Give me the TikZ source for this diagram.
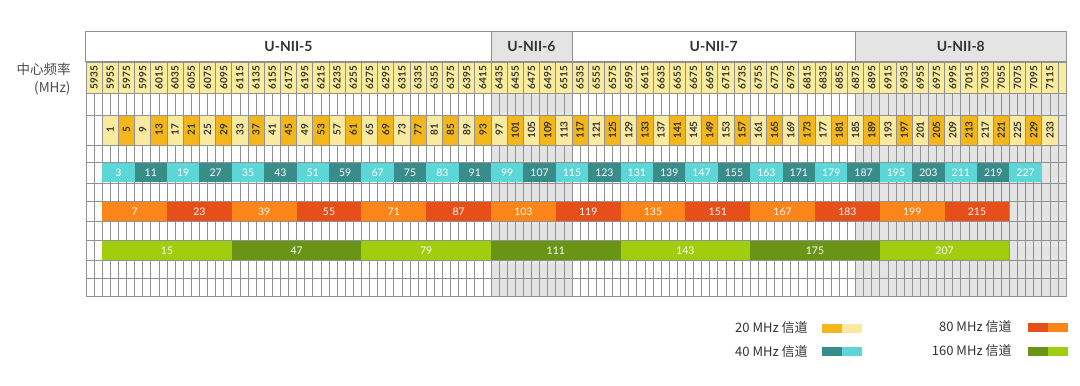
\documentclass[tikz,border=0pt]{standalone}
\usepackage{fontspec}
\setmainfont{Lato}
\newfontfamily\cjk{Noto Sans CJK SC}
\usetikzlibrary{positioning}

\definecolor{gridln}{RGB}{145,145,145}
\definecolor{bandgray}{RGB}{228,228,228}
\definecolor{freqyel}{RGB}{249,236,155}
\definecolor{yelL}{RGB}{249,234,160}
\definecolor{yelD}{RGB}{244,183,27}
\definecolor{cyanL}{RGB}{92,214,214}
\definecolor{cyanD}{RGB}{56,140,138}
\definecolor{orgL}{RGB}{251,133,24}
\definecolor{orgD}{RGB}{230,78,26}
\definecolor{grnL}{RGB}{160,206,14}
\definecolor{grnD}{RGB}{106,148,22}
\definecolor{txt}{RGB}{50,50,50}

\begin{document}
\begin{tikzpicture}[x=16.2pt, y=-1pt, line width=0.8pt,
  band/.style={draw=gridln, line width=1pt},
  bandlabel/.style={font=\fontsize{14}{16}\selectfont\bfseries, text=txt},
  freqcell/.style={draw=gridln, fill=freqyel, rotate=90, minimum width=31pt, minimum height=16.2pt,
    inner sep=0pt, outer sep=0pt, font=\fontsize{10}{12}\selectfont\bfseries, text=txt},
  cell20/.style={draw=gridln, rotate=90, minimum width=30pt, minimum height=16.2pt,
    inner sep=0pt, outer sep=0pt, font=\fontsize{10}{12}\selectfont\bfseries, text=txt},
  widecell/.style={minimum height=19.5pt, inner sep=0pt, outer sep=0pt,
    font=\fontsize{10.5}{12}\selectfont, text=white},
  sidetext/.style={anchor=east, inner sep=0pt, font=\cjk\fontsize{13.5}{15}\selectfont, text=black!70},
  legtext/.style={anchor=east, inner sep=0pt, font=\cjk\fontsize{13}{15}\selectfont, text=txt},
  swatch/.style={minimum width=20pt, minimum height=9pt, inner sep=0pt, outer sep=0pt}
]
\useasboundingbox (-5.3086,0) rectangle (61.358,385);

% band headers
\draw[band, fill=white] (0,31.5) rectangle (25,62);
\draw[band, fill=bandgray] (25,31.5) rectangle (30,62);
\draw[band, fill=white] (30,31.5) rectangle (47.5,62);
\draw[band, fill=bandgray] (47.5,31.5) rectangle (60.5,62);
\node[bandlabel] (unii5) at (12.5,46.75) {U-NII-5};
\node[bandlabel] (unii6) at (27.5,46.75) {U-NII-6};
\node[bandlabel] (unii7) at (38.75,46.75) {U-NII-7};
\node[bandlabel] (unii8) at (54,46.75) {U-NII-8};

\node[sidetext] (center) at (-0.93,69) {中心频率};
\node[sidetext] (mhz) at (-0.93,88) {(MHz)};

% centre frequencies
\foreach \i in {0,...,59} {
  \pgfmathtruncatemacro\f{5935+20*\i}
  \node[freqcell] (f\f) at (\i+0.5,77.5) {\f};
}
\draw[draw=gridln, fill=freqyel] (60,62) rectangle (60.5,93);

% background grid
\fill[bandgray] (25,93) rectangle (30,296.7);
\fill[bandgray] (47.5,93) rectangle (60.5,296.7);
\foreach \x in {0,0.5,...,60.5}
  \draw[gridln] (\x,93) -- (\x,296.7);
\foreach \y in {93,115,145,162,183,201.7,221.7,240.7,260.7,278.3,296.7}
  \draw[gridln] (0,\y) -- (60.5,\y);

% 20 MHz
\foreach \k in {1,...,59} {
  \pgfmathtruncatemacro\ch{4*\k-3}
  \ifodd\k \def\cc{yelL}\else\def\cc{yelD}\fi
  \node[cell20, fill=\cc] (a\ch) at (\k+0.5,130) {\ch};
}
% 40 MHz
\foreach \m in {0,...,28} {
  \pgfmathtruncatemacro\ch{3+8*\m}
  \ifodd\m \def\cc{cyanD}\else\def\cc{cyanL}\fi
  \node[widecell, fill=\cc, minimum width=32.4pt] (b\ch) at (2+2*\m,172.5) {\ch};
}
% 80 MHz
\foreach \m in {0,...,13} {
  \pgfmathtruncatemacro\ch{7+16*\m}
  \ifodd\m \def\cc{orgD}\else\def\cc{orgL}\fi
  \node[widecell, fill=\cc, minimum width=64.8pt] (c\ch) at (3+4*\m,211.7) {\ch};
}
% 160 MHz
\foreach \m in {0,...,6} {
  \pgfmathtruncatemacro\ch{15+32*\m}
  \ifodd\m \def\cc{grnD}\else\def\cc{grnL}\fi
  \node[widecell, fill=\cc, minimum width=129.6pt] (d\ch) at (5+8*\m,250.7) {\ch};
}

% legend
\node[legtext] (l20) at (44.57,328) {20 MHz 信道};
\node[swatch, fill=yelD, right=14pt of l20] (s20a) {};
\node[swatch, fill=yelL, right=0pt of s20a] (s20b) {};
\node[legtext] (l40) at (44.57,351.5) {40 MHz 信道};
\node[swatch, fill=cyanD, right=14pt of l40] (s40a) {};
\node[swatch, fill=cyanL, right=0pt of s40a] (s40b) {};
\node[legtext] (l80) at (57.16,327) {80 MHz 信道};
\node[swatch, fill=orgD, right=16pt of l80] (s80a) {};
\node[swatch, fill=orgL, right=0pt of s80a] (s80b) {};
\node[legtext] (l160) at (57.16,351) {160 MHz 信道};
\node[swatch, fill=grnD, right=16pt of l160] (s160a) {};
\node[swatch, fill=grnL, right=0pt of s160a] (s160b) {};
\end{tikzpicture}
\end{document}
